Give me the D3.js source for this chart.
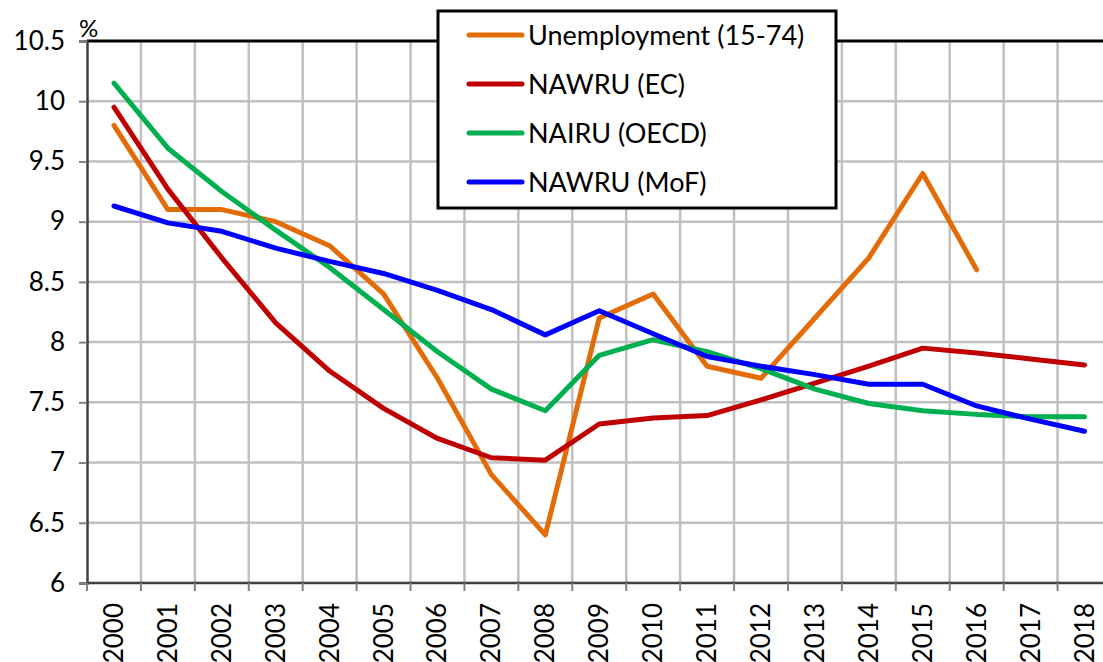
<!DOCTYPE html>
<html>
<head>
<meta charset="utf-8">
<script src="https://cdn.jsdelivr.net/npm/d3@7"></script>
<style>
  body { margin: 0; background: #fff; }
  svg { display: block; font-family: Lato, "Open Sans", sans-serif; }
</style>
</head>
<body>
<div id="chart"></div>
<script>

// data
var years = ["2000","2001","2002","2003","2004","2005","2006","2007","2008","2009",
             "2010","2011","2012","2013","2014","2015","2016","2017","2018"];

var unemployment = [9.8, 9.1, 9.1, 9.0, 8.8, 8.4, 7.7, 6.9, 6.4, 8.2,
                    8.4, 7.8, 7.7, 8.2, 8.7, 9.4, 8.6, null, null];
var nawruEC = [9.95, 9.27, 8.70, 8.16, 7.76, 7.45, 7.20, 7.04, 7.02, 7.32,
               7.37, 7.39, 7.52, 7.66, 7.80, 7.95, 7.91, 7.86, 7.81];
var nairuOECD = [10.15, 9.61, 9.25, 8.93, 8.62, 8.27, 7.92, 7.61, 7.43, 7.89,
                 8.02, 7.92, 7.78, 7.61, 7.49, 7.43, 7.40, 7.38, 7.38];
var nawruMoF = [9.13, 8.99, 8.92, 8.78, 8.67, 8.57, 8.43, 8.27, 8.06, 8.26,
                8.07, 7.88, 7.80, 7.73, 7.65, 7.65, 7.47, 7.36, 7.26];

var yTicks = [6, 6.5, 7, 7.5, 8, 8.5, 9, 9.5, 10, 10.5];

var seriesNames = ["Unemployment (15-74)", "NAWRU (EC)", "NAIRU (OECD)", "NAWRU (MoF)"];
var seriesColors = ["#E36C09", "#C00000", "#00B050", "#0000FF"];
var seriesData = [unemployment, nawruEC, nairuOECD, nawruMoF];

var width = 1103, height = 662;
var plotLeft = 87, plotTop = 41, plotBottom = 583;
var band = 53.92;

var svg = d3.select("#chart").append("svg")
    .attr("width", width)
    .attr("height", height);

var x = d3.scaleBand()
    .domain(years)
    .range([plotLeft, plotLeft + band * years.length]);

var y = d3.scaleLinear()
    .domain([6, 10.5])
    .range([plotBottom, plotTop]);

var xc = function(d){ return x(d) + x.bandwidth() / 2; };

// grid
var grid = svg.append("g");
grid.selectAll(".hgrid")
    .data(yTicks.filter(function(d){ return d > 6 && d < 10.5; }))
    .enter().append("line")
    .attr("x1", plotLeft).attr("x2", width)
    .attr("y1", function(d){ return y(d); })
    .attr("y2", function(d){ return y(d); })
    .attr("stroke", "#C0C0C0").attr("stroke-width", 2.5);

grid.selectAll(".vgrid")
    .data(years.slice(1))
    .enter().append("line")
    .attr("x1", function(d){ return x(d); })
    .attr("x2", function(d){ return x(d); })
    .attr("y1", plotTop).attr("y2", plotBottom)
    .attr("stroke", "#C0C0C0").attr("stroke-width", 2.5);

// series
var line = d3.line()
    .defined(function(d){ return d != null; })
    .x(function(d, i){ return xc(years[i]); })
    .y(function(d){ return y(d); });

svg.append("g").selectAll("path")
    .data(seriesData)
    .enter().append("path")
    .attr("d", line)
    .attr("fill", "none")
    .attr("stroke", function(d, i){ return seriesColors[i]; })
    .attr("stroke-width", 5)
    .attr("stroke-linejoin", "round")
    .attr("stroke-linecap", "round");

// top border
svg.append("line")
    .attr("x1", plotLeft).attr("x2", width)
    .attr("y1", plotTop).attr("y2", plotTop)
    .attr("stroke", "#000").attr("stroke-width", 3);

// y axis
var yAxis = d3.axisLeft(y)
    .tickValues(yTicks)
    .tickSize(8)
    .tickPadding(14)
    .tickFormat(function(d){ return String(d); });

var yAxisG = svg.append("g")
    .attr("transform", "translate(" + plotLeft + ",0)")
    .call(yAxis);
yAxisG.select(".domain").attr("stroke", "#404040").attr("stroke-width", 2.5);
yAxisG.selectAll(".tick line").attr("stroke", "#808080").attr("stroke-width", 2);
yAxisG.selectAll(".tick text")
    .attr("fill", "#000")
    .style("font-size", "26px")
    .style("font-family", "Lato, sans-serif");

svg.append("text")
    .attr("x", 79).attr("y", 37)
    .style("font-size", "24px")
    .text("%");

// x axis (ticks at band edges, labels in band centre)
var xAxisG = svg.append("g");
xAxisG.append("line")
    .attr("x1", plotLeft).attr("x2", width)
    .attr("y1", plotBottom).attr("y2", plotBottom)
    .attr("stroke", "#404040").attr("stroke-width", 2.5);

xAxisG.selectAll(".xtick")
    .data(years)
    .enter().append("line")
    .attr("x1", function(d){ return x(d); })
    .attr("x2", function(d){ return x(d); })
    .attr("y1", plotBottom).attr("y2", plotBottom + 8)
    .attr("stroke", "#808080").attr("stroke-width", 2);

xAxisG.selectAll(".xlabel")
    .data(years)
    .enter().append("text")
    .attr("transform", function(d){ return "translate(" + (xc(d) + 9) + "," + (plotBottom + 20) + ") rotate(-90)"; })
    .attr("text-anchor", "end")
    .style("font-size", "26px")
    .text(function(d){ return d; });

// legend
var legend = svg.append("g");
legend.append("rect")
    .attr("x", 438).attr("y", 11)
    .attr("width", 398).attr("height", 197)
    .attr("fill", "#fff")
    .attr("stroke", "#000").attr("stroke-width", 3);

var items = legend.selectAll(".item")
    .data(seriesNames)
    .enter().append("g")
    .attr("transform", function(d, i){ return "translate(0," + (35 + i * 49) + ")"; });

items.append("line")
    .attr("x1", 469).attr("x2", 522)
    .attr("stroke", function(d, i){ return seriesColors[i]; })
    .attr("stroke-width", 5)
    .attr("stroke-linecap", "round");

items.append("text")
    .attr("x", 528).attr("dy", "0.36em")
    .style("font-size", "27px")
    .text(function(d){ return d; });

</script>
</body>
</html>
